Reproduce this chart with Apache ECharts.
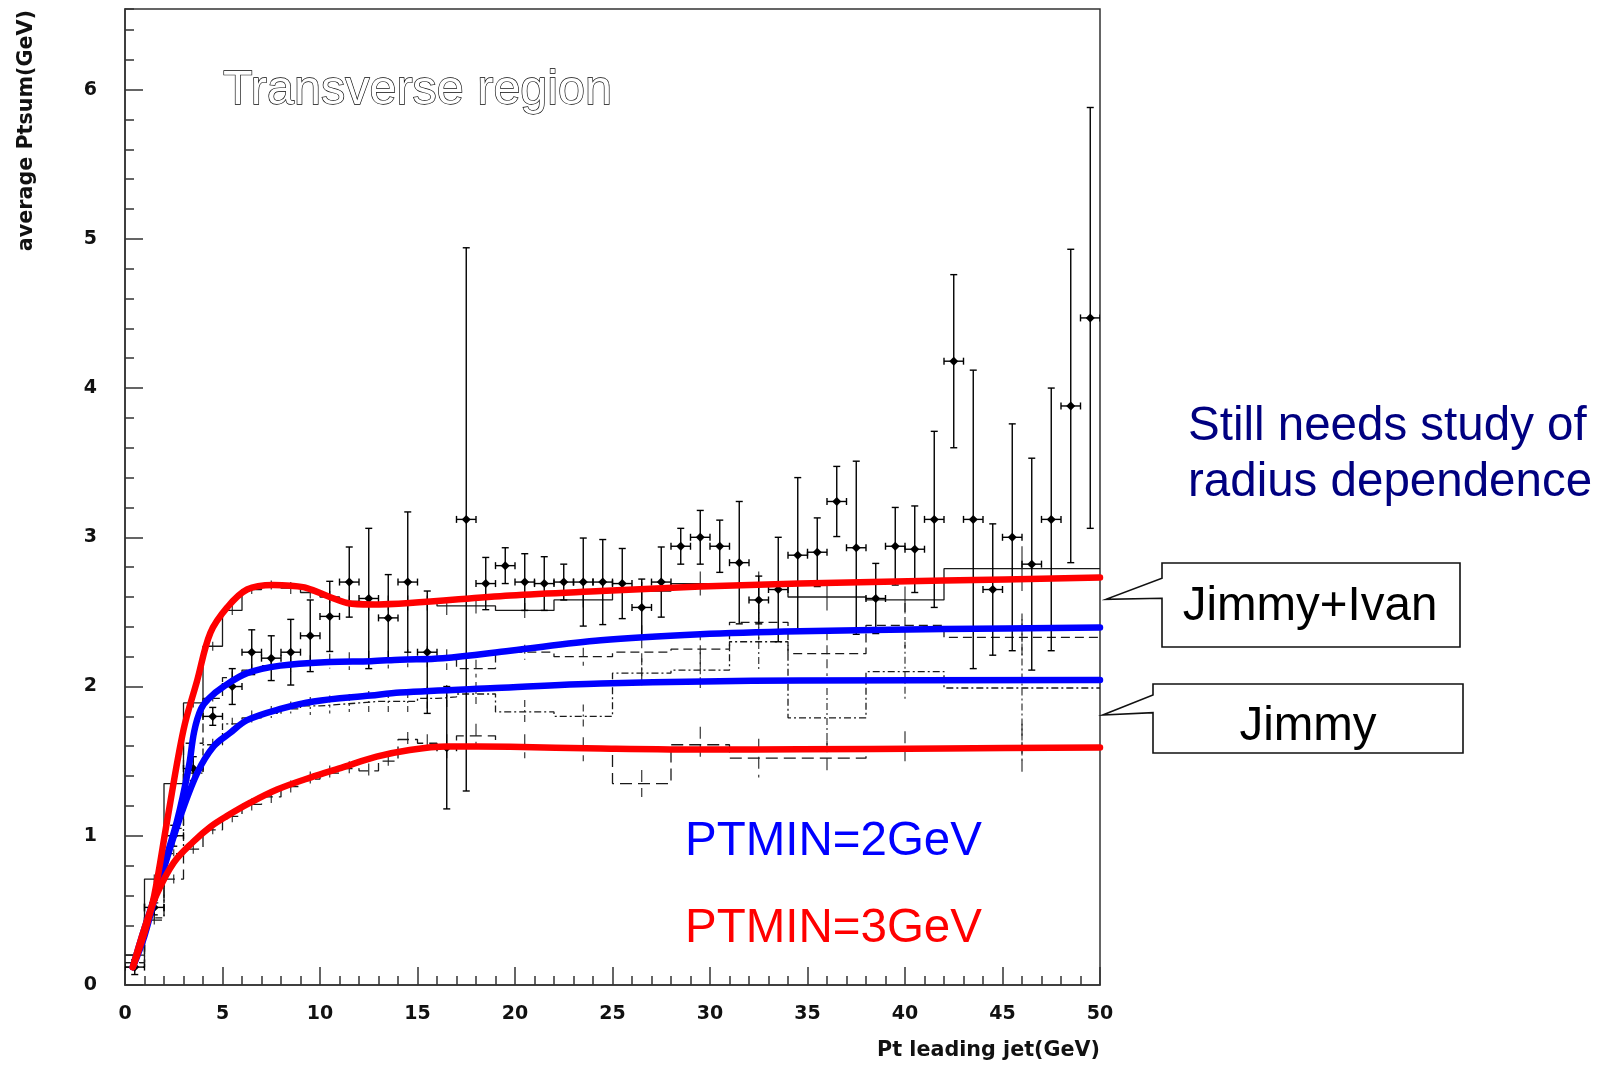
<!DOCTYPE html>
<html>
<head>
<meta charset="utf-8">
<script src="https://cdn.jsdelivr.net/npm/echarts@6/dist/echarts.min.js"></script>
<style>html,body{margin:0;padding:0;background:#fff}#c{width:1604px;height:1066px}</style>
</head>
<body>
<div id="c"></div>
<script>
// ---------- data ----------
const dataX = [0.5,1.5,2.5,3.5,4.5,5.5,6.5,7.5,8.5,9.5,10.5,11.5,12.5,13.5,14.5,15.5,16.5,17.5,18.5,19.5,20.5,21.5,22.5,23.5,24.5,25.5,26.5,27.5,28.5,29.5,30.5,31.5,32.5,33.5,34.5,35.5,36.5,37.5,38.5,39.5,40.5,41.5,42.5,43.5,44.5,45.5,46.5,47.5,48.5,49.5];
const dataY = [0.12,0.52,1.00,1.45,1.80,2.00,2.23,2.19,2.23,2.34,2.47,2.70,2.59,2.46,2.70,2.23,1.59,3.12,2.69,2.81,2.70,2.69,2.70,2.70,2.70,2.69,2.53,2.70,2.94,3.00,2.94,2.83,2.58,2.65,2.88,2.90,3.24,2.93,2.59,2.94,2.92,3.12,4.18,3.12,2.65,3.00,2.82,3.12,3.88,4.47];
const dataErr = [0.05,0.05,0.07,0.08,0.06,0.12,0.15,0.15,0.22,0.24,0.235,0.235,0.47,0.29,0.47,0.41,0.41,1.82,0.175,0.12,0.19,0.18,0.12,0.295,0.285,0.235,0.19,0.235,0.12,0.18,0.175,0.41,0.16,0.35,0.52,0.23,0.235,0.58,0.235,0.26,0.29,0.59,0.58,1.00,0.44,0.76,0.71,0.88,1.05,1.41];

// MC histograms (variable bins)
const binEdges = [0,1,2,3,4,5,6,7,8,9,10,11,12,13,14,15,16,17,19,22,25,28,31,34,38,42,50];
const histSolid   = [0.20,0.71,1.35,1.89,2.27,2.51,2.65,2.68,2.66,2.63,2.60,2.57,2.56,2.56,2.56,2.56,2.54,2.54,2.51,2.58,2.64,2.69,2.69,2.60,2.58,2.79];
const errSolid    = [0.02,0.03,0.03,0.03,0.03,0.03,0.03,0.03,0.04,0.04,0.04,0.04,0.05,0.05,0.05,0.05,0.06,0.05,0.05,0.05,0.06,0.08,0.08,0.09,0.09,0.15];
const histDashed  = [0.15,0.55,1.05,1.62,1.92,2.06,2.11,2.14,2.15,2.16,2.17,2.17,2.18,2.18,2.19,2.20,2.18,2.12,2.23,2.20,2.23,2.25,2.43,2.22,2.41,2.33];
const errDashed   = [0.02,0.03,0.03,0.04,0.04,0.04,0.04,0.04,0.05,0.05,0.05,0.06,0.06,0.06,0.06,0.07,0.07,0.06,0.05,0.06,0.18,0.12,0.12,0.15,0.15,0.12];
const histDashDot = [0.15,0.45,0.88,1.42,1.61,1.75,1.79,1.82,1.85,1.87,1.88,1.89,1.90,1.90,1.90,1.92,1.93,1.95,1.83,1.80,2.09,2.11,2.30,1.79,2.10,1.99];
const errDashDot  = [0.02,0.03,0.03,0.04,0.04,0.04,0.05,0.05,0.05,0.06,0.06,0.06,0.07,0.07,0.07,0.08,0.08,0.08,0.08,0.08,0.10,0.12,0.20,0.20,0.20,0.50];
const histLongDash= [0.12,0.435,0.71,0.91,1.04,1.13,1.21,1.26,1.33,1.38,1.42,1.45,1.435,1.50,1.645,1.62,1.60,1.67,1.60,1.58,1.35,1.61,1.52,1.52,1.58,1.58];
const errLongDash = [0.02,0.03,0.03,0.03,0.03,0.04,0.04,0.04,0.04,0.05,0.05,0.05,0.05,0.05,0.05,0.06,0.08,0.08,0.08,0.08,0.09,0.12,0.13,0.12,0.12,0.17];

// hand-drawn smooth curves
const curveJIvan3 = [[0.4,0.12],[1.0,0.35],[1.5,0.6],[2.16,1.1],[3.0,1.71],[3.7,2.04],[4.38,2.36],[5.24,2.53],[6.26,2.65],[7.6,2.68],[8.5,2.675],[9.33,2.66],[10.5,2.60],[11.4,2.56],[12.6,2.55],[14.6,2.56],[19.75,2.61],[24.4,2.64],[29.5,2.67],[34.6,2.69],[42,2.71],[50,2.73]];
const curveJIvan2 = [[0.4,0.12],[1.0,0.33],[1.8,0.72],[2.67,1.1],[3.27,1.46],[3.55,1.7],[3.9,1.85],[4.3,1.92],[5.06,2.0],[6.26,2.09],[7.97,2.14],[10.5,2.165],[12.6,2.17],[14.1,2.18],[16.3,2.19],[19.75,2.24],[24.4,2.31],[29.5,2.35],[34.6,2.37],[42,2.385],[50,2.395]];
const curveJimmy2 = [[0.4,0.12],[1.0,0.38],[1.8,0.7],[2.76,1.1],[3.7,1.42],[4.55,1.60],[5.4,1.69],[6.26,1.775],[7.97,1.85],[9.67,1.90],[12.6,1.94],[14.1,1.96],[19,1.99],[24.4,2.02],[34.6,2.04],[50,2.043]];
const curveJimmy3 = [[0.4,0.12],[1.0,0.38],[1.6,0.6],[2.5,0.82],[3.5,0.96],[4.38,1.06],[5.2,1.13],[6.4,1.22],[7.8,1.31],[9.5,1.39],[11.2,1.46],[12.9,1.53],[14.6,1.575],[16.5,1.598],[19.75,1.596],[24.4,1.585],[30,1.578],[34.6,1.579],[42,1.585],[50,1.592]];

const xTicks = [0,5,10,15,20,25,30,35,40,45,50];
const yTicks = [0,1,2,3,4,5,6];

// ---------- build ----------
const chart = echarts.init(document.getElementById('c'), null, {renderer:'canvas'});

function stepData(vals){
  const out = [];
  for (let i = 0; i < binEdges.length; i++) out.push([binEdges[i], vals[Math.min(i, vals.length-1)]]);
  return out;
}
function mcErrData(vals, errs, style){
  return vals.map((v,i)=>[(binEdges[i]+binEdges[i+1])/2, v, errs[i], style]);
}
const dashes = [null, [9,5], [7,3,2,3], [12,6]];

function renderData(params, api){
  const x=api.value(0), y=api.value(1), e=api.value(2);
  const c=api.coord([x,y]), t=api.coord([x,y+e]), b=api.coord([x,y-e]);
  const l=api.coord([x-0.5,y]), r=api.coord([x+0.5,y]);
  const st={stroke:'#000', lineWidth:1.4};
  const d=4.5, cap=3.5;
  return {type:'group', children:[
    {type:'line', shape:{x1:c[0],y1:t[1],x2:c[0],y2:b[1]}, style:st},
    {type:'line', shape:{x1:c[0]-cap,y1:t[1],x2:c[0]+cap,y2:t[1]}, style:st},
    {type:'line', shape:{x1:c[0]-cap,y1:b[1],x2:c[0]+cap,y2:b[1]}, style:st},
    {type:'line', shape:{x1:l[0],y1:c[1],x2:r[0],y2:c[1]}, style:st},
    {type:'line', shape:{x1:l[0],y1:c[1]-cap,x2:l[0],y2:c[1]+cap}, style:st},
    {type:'line', shape:{x1:r[0],y1:c[1]-cap,x2:r[0],y2:c[1]+cap}, style:st},
    {type:'polygon', shape:{points:[[c[0],c[1]-d],[c[0]+d,c[1]],[c[0],c[1]+d],[c[0]-d,c[1]]]}, style:{fill:'#000'}}
  ]};
}
function renderMcErr(params, api){
  const x=api.value(0), y=api.value(1), e=api.value(2), s=api.value(3);
  const t=api.coord([x,y+e]), b=api.coord([x,y-e]);
  return {type:'line', shape:{x1:t[0],y1:t[1],x2:b[0],y2:b[1]},
    style:{stroke:'#222', lineWidth:1.1, lineDash: dashes[s] || null}};
}

const histLine = (vals, dash) => ({
  type:'line', data: stepData(vals), step:'end', symbol:'none', z:1,
  lineStyle:{color:'#1a1a1a', width:1.3, type: dash || 'solid'}, animation:false
});
const curve = (pts, color, z) => ({
  type:'line', data: pts, smooth:0.35, symbol:'none', z:z,
  lineStyle:{color:color, width:6.5, cap:'round', join:'round'}, animation:false
});

const axisLabelFont = {fontFamily:'DejaVu Sans', fontWeight:'bold', fontSize:19, color:'#111'};
const slideFont = '47.5px "Liberation Sans", Arial, sans-serif';

const option = {
  animation:false,
  backgroundColor:'#fff',
  grid:{left:125, right:504, top:9, bottom:81, show:true, borderColor:'#333', borderWidth:1.5, backgroundColor:'transparent'},
  xAxis:[{
    type:'value', min:0, max:50, interval:5,
    axisLine:{show:true, onZero:false, lineStyle:{color:'#333', width:1.5}},
    axisTick:{show:true, inside:true, length:18, lineStyle:{color:'#333', width:1.5}},
    minorTick:{show:true, splitNumber:5, length:9, lineStyle:{color:'#333', width:1.5}},
    splitLine:{show:false}, minorSplitLine:{show:false},
    axisLabel:Object.assign({margin:20, formatter:v=> xTicks.includes(v) ? String(v) : ''}, axisLabelFont)
  }],
  yAxis:[{
    type:'value', min:0, max:6.54, interval:1, position:'left',
    axisLine:{show:true, onZero:false, lineStyle:{color:'#333', width:1.5}},
    axisTick:{show:true, inside:true, length:18, lineStyle:{color:'#333', width:1.5}},
    splitLine:{show:false},
    axisLabel:Object.assign({margin:28, showMaxLabel:false, formatter:v=> yTicks.includes(v) ? String(v) : ''}, axisLabelFont)
  },{
    type:'value', min:0, max:6.54, interval:0.2, position:'left', offset:0,
    axisLine:{show:false},
    axisTick:{show:true, inside:true, length:9, lineStyle:{color:'#333', width:1.5}},
    axisLabel:{show:false}, splitLine:{show:false}
  }],
  series:[
    histLine(histSolid, 'solid'),
    histLine(histDashed, dashes[1]),
    histLine(histDashDot, dashes[2]),
    histLine(histLongDash, dashes[3]),
    {type:'custom', renderItem:renderMcErr, z:1, clip:true, encode:{x:0,y:1},
      data:[].concat(mcErrData(histSolid,errSolid,0), mcErrData(histDashed,errDashed,1), mcErrData(histDashDot,errDashDot,2), mcErrData(histLongDash,errLongDash,3))},
    {type:'custom', renderItem:renderData, z:2, clip:true, encode:{x:0,y:1},
      data:dataX.map((x,i)=>[x, dataY[i], dataErr[i]])},
    curve(curveJIvan2, '#0000ff', 3),
    curve(curveJimmy2, '#0000ff', 3),
    curve(curveJIvan3, '#ff0000', 4),
    curve(curveJimmy3, '#ff0000', 4)
  ],
  graphic:[
    {type:'text', x:223, y:91, z:10, style:{text:'Transverse region', font:'48.5px "Liberation Sans", Arial, sans-serif', fill:'#fff', stroke:'#000', lineWidth:1.3, align:'left', verticalAlign:'middle'}},
    {type:'text', x:1100, y:1050.5, style:{text:'Pt leading jet(GeV)', font:'bold 20.7px "DejaVu Sans"', fill:'#111', align:'right', verticalAlign:'middle'}},
    {type:'text', x:27, y:10, rotation:Math.PI/2, style:{text:'average Ptsum(GeV)', font:'bold 20.7px "DejaVu Sans"', fill:'#111', align:'right', verticalAlign:'middle'}},
    {type:'text', x:1188, y:426.5, style:{text:'Still needs study of', font:slideFont, fill:'#000080', align:'left', verticalAlign:'middle'}},
    {type:'text', x:1188, y:482.6, style:{text:'radius dependence', font:slideFont, fill:'#000080', align:'left', verticalAlign:'middle'}},
    {type:'polygon', shape:{points:[[1162,563],[1460,563],[1460,647],[1162,647],[1162,598.3],[1106,599.3],[1162,578.3]]}, style:{fill:'#fff', stroke:'#111', lineWidth:1.6}},
    {type:'text', x:1310, y:607, style:{text:'Jimmy+Ivan', font:slideFont, fill:'#000', align:'center', verticalAlign:'middle'}},
    {type:'polygon', shape:{points:[[1153,684],[1463,684],[1463,753],[1153,753],[1153,712.7],[1102.7,715],[1153,695]]}, style:{fill:'#fff', stroke:'#111', lineWidth:1.6}},
    {type:'text', x:1308, y:727, style:{text:'Jimmy', font:slideFont, fill:'#000', align:'center', verticalAlign:'middle'}},
    {type:'text', x:685, y:842, z:10, style:{text:'PTMIN=2GeV', font:slideFont, fill:'#0000ff', align:'left', verticalAlign:'middle'}},
    {type:'text', x:685, y:928.6, z:10, style:{text:'PTMIN=3GeV', font:slideFont, fill:'#ff0000', align:'left', verticalAlign:'middle'}}
  ]
};
chart.setOption(option);
</script>
</body>
</html>
